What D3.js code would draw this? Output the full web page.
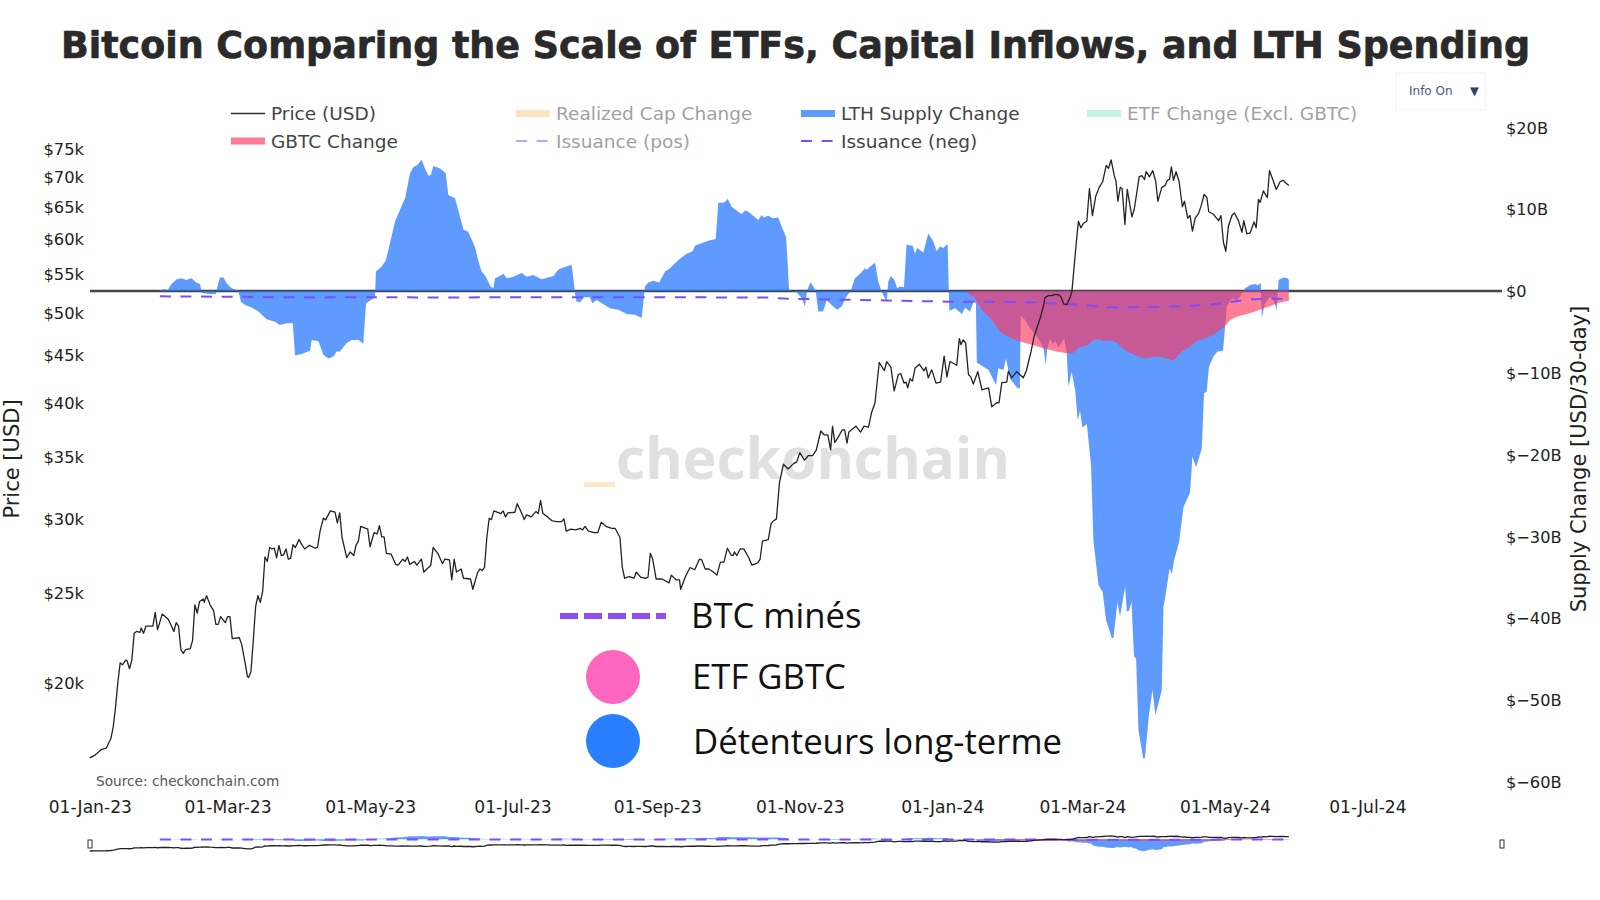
<!DOCTYPE html>
<html>
<head>
<meta charset="utf-8">
<script src="https://d3js.org/d3.v7.min.js"></script>
<style>
  body { margin: 0; background: #fff; }
  text { font-family: "DejaVu Sans", sans-serif; }
</style>
</head>
<body>
<svg id="chart" width="1600" height="900"></svg>
<script type="text/javascript">
// days since 01-Jan-23, price in $k
var priceDays = [0,2,5,7,9,10,11,12,13,14,15.4,16,17,18,19,20,21.5,22,23,24,25,27,28,29,31,33.6,35,36,37,38,39,40,41,43,44,45,46,47,48.6,49,50,51.5,53,54,55,56,58,59,60,61,64,65,66.5,67.5,68,69,70,71,72,73,74,75,76,77,78,79,80,81,82,83,84,85,86,87,88,89.6,91,92,94,96.5,97.5,98.6,100,101,103,105,106,107,108,110,111.5,113,114,115,116,119,120,121.7,123,124,125,126,127,129,131,132,134,135,136,137,139,140,142,143,146,147,149,151,152,154,155,156,157,159,160,163,164,166,167,168,169,170,171,172,173,176,177,178,179,182,183,184.5,186,187,189,191,192,193,194,196,198,200,202,203,204,206,208,210,211,212,213.5,216,217.5,219,221,223.5,225,227,228,229,231,233,234,236,238,239,240,241,242.5,245,248,249,251,252.5,253,255,257,259,261,262,263.5,265,267,268.5,270,271.5,273,274.5,275.5,276,277,278.5,280,282,283.5,286,287,288,290.5,291.7,292.7,294,295.3,297,299,301.3,302.7,304,306,307.7,309.5,311,313,314.4,316,317.2,318,319,321,322.2,323.2,324.2,325,328,330,331.5,333.4,334.8,336.2,338,340.2,341.2,343,344.4,346.2,347.2,348.6,349.5,350.2,351.2,352.2,353.4,355.2,357.2,358,359,360.5,362.3,364.3,365.8,367,368.3,371.2,372.3,373,374,375,376.2,377.2,378.3,380.2,382,384.8,386.2,388.3,389.3,390.5,392.6,393.3,394.7,396.9,399.7,401,403,404.3,407,408.3,409,410.5,412,413,414.8,415.8,417,418.3,419.7,420.5,421.5,422.6,423.3,424.3,425.5,426.9,428,429.3,430.7,432.2,433.7,435.2,436.2,437.3,438.6,439.4,440.2,441.2,442,443.2,444.2,446.2,447.2,449.3,450.4,451.6,452.3,453.7,455.1,456.4,457.3,459,460.4,461.4,462.3,463.1,464,465.1,466.4,467.8,468.7,470.1,471.1,472.1,473.3,474.7,475.8,477.1,478.3,479.1,481.1,483.3,484.3,485.4,486.4,487.5,489,490.1,491.8,493.3,494.1,495.4,496.8,498.5,499.4,500.4,501.1,502.5,504.2,505.1,506.5,508,509.7,511,512.2,513.4];
var priceValues = [16.6,16.7,16.95,17,17.4,17.9,18.8,20,21,20.9,21.15,21.1,20.7,21.15,22.6,22.7,22.65,22.9,22.6,23,23,23,23.8,22.8,23.7,23.4,23,22.7,23.2,23,21.7,21.5,21.7,21.75,22.2,24.25,23.75,24.45,24.6,24.4,24.8,24.25,23.9,23.1,23.1,23.55,23.2,23.55,23.55,22.3,22.35,22,21,20.3,20.25,20.55,22.2,24.15,24.8,24.4,25.05,27.3,27,27.95,27.85,27.9,27.25,28.1,27.4,27.45,27.85,27.15,27.2,28.15,27.95,28.5,28.1,27.85,28.1,27.9,27.95,29.1,30.05,29.93,30.6,30.5,29.7,30.45,28.65,27.25,27.65,27.4,28.1,28.4,29.45,29.25,28,29,28.9,29.5,28.7,28.7,27.55,27.5,26.8,26.75,27.15,27,27.3,26.8,27,26.75,27.15,26.3,26.75,27.95,27.55,26.85,27.15,27.1,25.8,27.15,26.3,26.5,25.9,25.85,25.2,26.25,26.5,26.4,26.6,28.65,30.05,29.95,30.6,30.4,30.6,30.15,30.45,30.5,31.15,30.6,29.95,30.3,30.15,30.55,30.4,31.4,30.4,30.15,29.85,29.8,29.8,30,29.1,29.25,29.2,29.3,29.2,29.45,29.1,29,29,29.75,29.45,29.3,29.3,28.65,26.6,25.9,26,25.9,26.3,25.95,25.9,25.95,27.55,27.15,25.85,25.85,25.6,26.1,25.8,25.8,25.2,26,26.6,26.45,27.15,27.1,26.5,26.5,26.3,26.1,26.95,26.95,27.9,27.45,27.4,27.65,27.4,27.85,27.85,27.3,26.75,26.9,27.15,28.4,28.5,29.65,29.85,30,32.85,34.35,33.95,34.4,34.55,35.35,34.7,35.1,35.1,35.55,37.3,36.95,36.95,35.6,37.75,36.25,36.95,37.4,37.4,36.2,37.2,37.75,37.2,37.75,37.65,39.1,40,44.2,43.3,44.3,43.7,41.2,42.9,43,42,42.1,41.5,42.45,42.2,43.6,44,43.3,43.7,42.55,43.4,42,42.1,44.9,42.65,44.3,43.9,46.9,46.2,46.75,46.4,42.9,42.65,41.9,43.2,41.3,41.5,39.6,40,40,42.05,42.1,43.25,42.55,43.2,42.55,43.3,45.4,47.1,49.4,50.8,51.9,52.15,52.15,52.3,52.3,52,51.1,51,51.9,52.7,56.2,60.3,62.7,61.7,62.4,62.7,68,63.6,66.7,68.2,69.2,72,71.5,73,70.3,69.2,65.9,68.2,68,62.2,67.85,63.4,64.6,70,70.2,69.55,70.9,70,71.1,69.2,65.9,68.2,68.5,69.4,69.55,71.75,69.4,70.9,69.2,65,65.9,63.2,63.6,61.2,63.2,63.9,65.1,67,66.5,64.2,63.8,62.8,63.6,59.5,58.2,61.9,63.6,64,62.8,61,62.8,60.8,60.9,62.6,61.7,66.2,65.7,67.6,66.5,71.1,69.55,67.85,69.2,69.4,68.9,68.5];

// LTH supply change, $B per 30 days
var lthDays = [30,32.2,33.2,35,37.2,39.3,41.2,43.6,45.5,47.2,48,51.5,54,54.6,55.7,57.2,58.6,60.7,63.6,64.7,66.5,69.3,72.2,75.7,79.3,81.4,84.3,86.9,87.9,90.7,94.3,95,97.9,100,102.1,104.3,105.7,107.1,110,112.1,115,117.1,118.3,122.1,122.5,125,126.8,130.7,133.5,135,137.1,138.5,140.2,142.1,143.5,145,146,147.1,150,152.4,153.5,156.4,160,162,164.9,166.6,167.8,169.6,171.6,172.8,173.5,174.9,177.1,178.5,181.3,184.9,187.1,189.9,193.5,198.5,200.6,202,206.3,207.3,207.7,208.4,210.1,211.6,214.1,215.1,217,222.7,226.3,229.9,233.4,236.3,237.7,239.1,241.3,243.8,246.3,248.4,252,255.5,258.1,259.1,262.7,265.5,268,269.1,271.2,272.2,273.1,274.8,279.1,280.5,282,286.2,287.7,288.6,290.5,292.6,294.8,296.2,298.1,298.8,299.4,302.6,304.8,306.2,307.2,308.6,309.8,310.8,311.9,314,315.5,317.6,320,321.9,324,325.8,327.6,329.8,331.9,332.6,336.2,337.6,339,341.2,341.9,343,344.5,345.7,346.9,348.6,349.7,352.3,353.3,354.3,356.9,359,361.2,362.6,364,365.4,367.3,367.8,368,370.5,373.4,374.8,376.9,378.4,379.4,379.8,382.6,384.8,388,389,391.2,392.3,394,397.2,398.2,398.6,400.5,402.6,405.5,408.3,409.3,410,411.2,412.3,413.3,414.8,417.2,418.3,419,420.4,421.9,423,424,425,426.9,428.7,429.7,431.9,433.7,435.1,437.6,438.3,440,441.1,443.3,444,445,446,447.1,448,449,451,451.8,453.4,455,456.3,459,459.7,460.4,462.3,463.3,464.3,466.4,468.3,471.1,472.1,473.7,476.1,477.1,478.2,479.2,481.1,482.8,485.2,486.1,486.8,489,491.1,492.5,493.7,494.7,496.8,499,500,501.4,501.8,502.5,503.2,505.4,506.8,508.2,509,511.1,512.8,513.4];
var lthValues = [0.1,0.25,0.05,0.85,1.45,1.55,1.35,1.55,1.05,0.85,-0.25,-0.35,-0.35,0.5,1.65,1.65,0.95,0.35,0.05,-1.3,-1.7,-2,-2.5,-3.45,-3.75,-4.15,-3.95,-3.95,-7.9,-7.7,-7.3,-6,-6.15,-7.8,-8.25,-8,-7.4,-7.4,-6.35,-6,-6,-6.45,-1.5,-0.75,2.4,3,3.8,8.5,10.4,11.35,14.4,15.15,15.4,16.05,15,14.1,14.2,15.3,15,14.4,11.75,11.35,7.5,7.25,5.4,3.4,2.4,1.75,0.55,0.35,1.55,1.75,2.1,1.55,1.75,2.2,1.75,1.95,1.45,1.85,2.6,2.8,3.2,0.95,-0.25,-1.3,-1.35,-0.75,-0.75,-1.5,-1.1,-2.1,-2.3,-2.8,-2.9,-3.3,0.55,1.05,1.25,1.05,2.4,2.8,3.8,4.55,4.85,5.55,5.95,6.2,6.35,10.8,10.8,10.95,11.3,10.3,9.4,9.85,9.7,8.7,9.3,9,9.2,8.9,9,7.9,6.65,3.4,0.15,-0.15,-0.85,-1.9,0.15,1.05,0.55,0,-2.5,-2.5,-1.1,-1.7,-2.3,-1.9,-0.65,0,1.55,2.1,2.8,2.6,3.5,1.15,-0.05,-1.3,1.15,1.85,1.35,0.35,0.55,0.45,5.65,5.55,4.6,5.25,4.7,7.05,6.05,4.85,5.45,5.25,5.75,0.15,-2.4,-2.1,-2.8,-2.05,-2.55,-1.3,-1.5,-8.75,-9.25,-9.65,-11.5,-9.45,-9.65,-8.25,-10.7,-11.9,-11.9,-3.05,-3.55,-4.55,-5.6,-6.9,-9.05,-6.9,-5.85,-6.5,-6.05,-6.9,-5.8,-7.6,-11.7,-9.9,-12.1,-15.85,-14.65,-16.7,-16.25,-21.3,-30.45,-35.95,-36.8,-40.2,-42.45,-42.45,-38,-39.8,-36.15,-39.2,-39.1,-38,-44.7,-44.95,-53.7,-57.1,-57.1,-52.05,-48.8,-51.85,-48.8,-38.6,-37.6,-33.9,-34.6,-32.9,-30.65,-26.4,-24.6,-20.25,-21.55,-19.25,-12.5,-12.3,-9.25,-8,-7.4,-7.3,-4.35,-1.9,-0.9,-1.1,-0.7,-0.1,0.35,0.75,0.85,0.7,0.95,-3.35,-2.3,-1.5,-0.7,-1.1,-2.25,1.35,1.65,1.55,1.35];

// GBTC change
var gbtcDays = [374.8,378.4,381.9,386.2,389.8,393.3,397.6,402.6,408.3,414,418.3,421.2,423.3,426.9,429.7,431.9,434,437.6,439.7,441.9,444.7,451.2,454.7,458.3,464,467.6,471.1,474,477.6,481.8,485.4,488.3,491.1,495.4,499,502.5,505.4,508.2,513.4];
var gbtcValues = [0,-0.7,-2.3,-3.55,-5,-5.6,-6.1,-6.5,-7,-7.4,-7.6,-7.55,-6.9,-6.7,-6,-5.9,-6.1,-6.05,-6.3,-6.9,-7.5,-8.25,-8.1,-8,-8.5,-7.4,-6.8,-6.1,-5.8,-5.2,-4.45,-3.55,-3.15,-2.8,-2.5,-2.1,-1.85,-1.5,-1.2];

// issuance (neg)
var issDays = [30,60,90,120,150,180,210,240,270,290,300,320,340,368,400,424,435,452,468,480,487,497,513.4];
var issValues = [-0.65,-0.7,-0.78,-0.75,-0.8,-0.75,-0.75,-0.75,-0.78,-0.8,-0.95,-1.05,-1.15,-1.3,-1.35,-1.65,-2,-1.95,-1.85,-1.65,-1.4,-1,-0.95];

var priceTicks = [20,25,30,35,40,45,50,55,60,65,70,75];
var supplyTicks = [-60,-50,-40,-30,-20,-10,0,10,20];
var dateTicks = ["2023-01-01","2023-03-01","2023-05-01","2023-07-01","2023-09-01","2023-11-01","2024-01-01","2024-03-01","2024-05-01","2024-07-01"];

var legendRows = [
  {name:"Price (USD)", kind:"line", color:"#333", col:0, row:0, off:false},
  {name:"Realized Cap Change", kind:"bar", color:"#fdc78b", col:1, row:0, off:true},
  {name:"LTH Supply Change", kind:"bar", color:"#5f9bff", col:2, row:0, off:false},
  {name:"ETF Change (Excl. GBTC)", kind:"bar", color:"#8ee8c4", col:3, row:0, off:true},
  {name:"GBTC Change", kind:"bar", color:"#ff7d96", col:0, row:1, off:false},
  {name:"Issuance (pos)", kind:"dash", color:"#7b4dff", col:1, row:1, off:true},
  {name:"Issuance (neg)", kind:"dash", color:"#7b4dff", col:2, row:1, off:false}
];
var legendCols = [231,516,801,1087];
var legendY = [113.5,141];

var svg = d3.select("#chart");
var t0 = Date.UTC(2023,0,1);
function dayDate(d) { return new Date(t0 + d*864e5); }

var x = d3.scaleUtc().domain([new Date(t0), new Date(Date.UTC(2024,7,28))]).range([89.8,1502.8]);
var yPrice = d3.scaleLog().domain([20,75]).range([682.6,149]);
var ySupply = d3.scaleLinear().domain([-60,20]).range([781.6,127.5]);
// range slider shows the same traces squeezed
var yPriceMini = d3.scaleLog().domain([20,75]).range([849.1,835.7]);
var ySupplyMini = d3.scaleLinear().domain([-60,20]).range([851.6,835.2]);

function pts(days, vals) { return days.map(function(d,i){ return [dayDate(d), vals[i]]; }); }

function drawTraces(g, yP, yS, lineW, dashW) {
  var area = d3.area().x(function(d){return x(d[0])}).y0(yS(0)).y1(function(d){return yS(d[1])});
  var line = d3.line().x(function(d){return x(d[0])}).y(function(d){return yS(d[1])});
  var pline = d3.line().x(function(d){return x(d[0])}).y(function(d){return yP(d[1])});
  g.append("path").attr("d", area(pts(lthDays,lthValues))).attr("fill","rgb(41,121,255)").attr("fill-opacity",0.75);
  g.append("path").attr("d", area(pts(gbtcDays,gbtcValues))).attr("fill","rgb(255,53,92)").attr("fill-opacity",0.645);
  g.append("path").attr("d", line(pts(issDays,issValues))).attr("fill","none").attr("stroke","#7b4dff")
    .attr("stroke-width",dashW).attr("stroke-dasharray","11,9.6");
  g.append("path").attr("d", pline(pts(priceDays,priceValues))).attr("fill","none").attr("stroke","#222")
    .attr("stroke-width",lineW).attr("stroke-linejoin","round");
}

// title
svg.append("text").attr("x",795.5).attr("y",58).attr("text-anchor","middle")
  .style("font-size","36.45px").style("font-weight","bold").attr("fill","#2a2a2a")
  .attr("stroke","#2a2a2a").attr("stroke-width",0.7)
  .text("Bitcoin Comparing the Scale of ETFs, Capital Inflows, and LTH Spending");

// watermark
svg.append("text").attr("x",616).attr("y",479).style("font-family","Open Sans").style("font-size","57px").style("font-weight","bold")
  .attr("fill","#e0e0e0").text("checkonchain");
svg.append("rect").attr("x",584).attr("y",482).attr("width",31).attr("height",5).attr("fill","#fde8cc");

// zero line under the fills
svg.append("line").attr("x1",90).attr("x2",1502).attr("y1",ySupply(0)).attr("y2",ySupply(0))
  .attr("stroke","#444").attr("stroke-width",2.5);

drawTraces(svg.append("g"), yPrice, ySupply, 1.3, 2);

// axes
var leftAxis = d3.axisLeft(yPrice).tickValues(priceTicks).tickSize(0).tickFormat(function(d){return "$"+d+"k"});
var rightAxis = d3.axisRight(ySupply).tickValues(supplyTicks).tickSize(0).tickFormat(function(d){
  if (d == 0) return "$0";
  return d < 0 ? "$\u2212"+Math.abs(d)+"B" : "$"+d+"B";
});
var bottomAxis = d3.axisBottom(x).tickValues(dateTicks.map(function(d){return new Date(d)})).tickSize(0)
  .tickFormat(d3.utcFormat("%d-%b-%y"));

var gl = svg.append("g").attr("transform","translate(87,0.5)").call(leftAxis);
var gr = svg.append("g").attr("transform","translate(1503,0.5)").call(rightAxis);
var gb = svg.append("g").attr("transform","translate(0,797.5)").call(bottomAxis);
svg.selectAll(".domain").remove();
svg.selectAll(".tick text").style("font-family","DejaVu Sans").attr("fill","#222");
gl.selectAll(".tick text").style("font-size","16.3px");
gr.selectAll(".tick text").style("font-size","16.2px");
gb.selectAll(".tick text").style("font-size","17.1px");

svg.append("text").attr("transform","translate(19,459) rotate(-90)").attr("text-anchor","middle")
  .style("font-size","21px").attr("fill","#222").text("Price [USD]");
svg.append("text").attr("transform","translate(1586,459) rotate(-90)").attr("text-anchor","middle")
  .style("font-size","21px").attr("fill","#222").text("Supply Change [USD/30-day]");

svg.append("text").attr("x",96).attr("y",786).style("font-size","13.7px").attr("fill","#555")
  .text("Source: checkonchain.com");

// plot legend
var leg = svg.append("g").selectAll("g").data(legendRows).enter().append("g")
  .attr("transform",function(d){return "translate("+legendCols[d.col]+","+legendY[d.row]+")"})
  .attr("opacity",function(d){return d.off ? 0.5 : 1});
leg.append("text").attr("x",40).attr("dy","0.36em").style("font-size","18.5px").attr("fill","#444")
  .text(function(d){return d.name});
leg.filter(function(d){return d.kind=="bar"}).append("rect").attr("y",-3.5).attr("width",34).attr("height",7)
  .attr("fill",function(d){return d.color});
leg.filter(function(d){return d.kind!="bar"}).append("line").attr("x2",34)
  .attr("stroke",function(d){return d.color}).attr("stroke-width",function(d){return d.kind=="dash"?2:1.5})
  .attr("stroke-dasharray",function(d){return d.kind=="dash"?"11,9.6":null});

// info button
svg.append("rect").attr("x",1396).attr("y",73).attr("width",89).attr("height",37).attr("fill","#fff")
  .attr("stroke","#f4f4f4");
svg.append("text").attr("x",1409).attr("y",95).style("font-size","12px").attr("fill","#44597c").text("Info On");
svg.append("text").attr("x",1470).attr("y",95).style("font-size","11.5px").attr("fill","#2f4468").text("▼");

// annotation overlay
svg.append("line").attr("x1",560).attr("x2",666).attr("y1",616).attr("y2",616)
  .attr("stroke","#8f4ff5").attr("stroke-width",6).attr("stroke-dasharray","18,6");
svg.append("circle").attr("cx",613).attr("cy",677).attr("r",27).attr("fill","#ff66c0");
svg.append("circle").attr("cx",613).attr("cy",741).attr("r",27).attr("fill","#2a7fff");
var notes = [["BTC minés",691,616],["ETF GBTC",692,677],["Détenteurs long-terme",693,742]];
svg.selectAll(".note").data(notes).enter().append("text").attr("class","note")
  .attr("x",function(d){return d[1]}).attr("y",function(d){return d[2]}).attr("dy","0.35em")
  .style("font-family","Open Sans").style("font-size","34.7px").attr("fill","#111")
  .text(function(d){return d[0]});

// range slider
drawTraces(svg.append("g"), yPriceMini, ySupplyMini, 1.3, 2);
[90,1502].forEach(function(hx){
  svg.append("rect").attr("x",hx-2).attr("y",840).attr("width",4).attr("height",8)
    .attr("fill","#fff").attr("stroke","#333").attr("stroke-width",1);
});
</script>
</body>
</html>
